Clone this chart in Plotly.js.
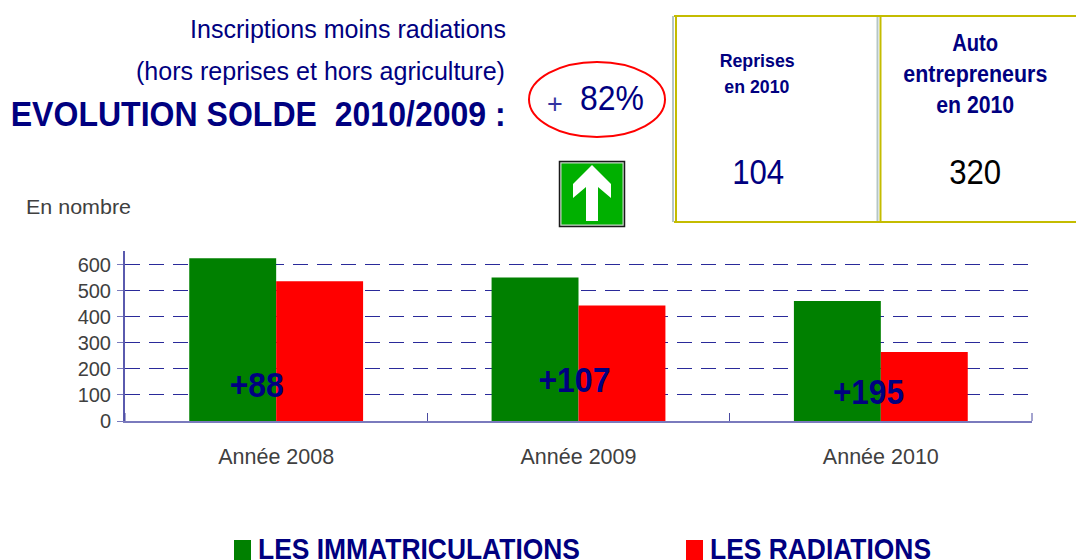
<!DOCTYPE html>
<html><head><meta charset="utf-8">
<script src="https://cdn.plot.ly/plotly-3.0.1.min.js"></script>
<style>html,body{margin:0;padding:0;background:#fff;overflow:hidden}</style>
</head><body><div id="chart" style="width:1076px;height:560px"></div>
<script>
const categories = ["Année 2008", "Année 2009", "Année 2010"];
const immatriculations = [624, 550, 460];
const radiations = [536, 443, 265];
const soldes = ["+88", "+107", "+195"];
const seriesNames = ["LES IMMATRICULATIONS", "LES RADIATIONS"];
const yTicks = [0, 100, 200, 300, 400, 500, 600];

const W = 1076, H = 560, M = {l:125, r:44, t:251, b:139};
const px = x => (x - M.l) / (W - M.l - M.r);
const py = y => 1 - (y - M.t) / (H - M.t - M.b);
const NAVY = "#000080", SANS = "Liberation Sans, Arial, sans-serif";
const squeezed = [];

function label(text, x, y, size, width, opts) {
  opts = opts || {};
  squeezed.push(width);
  return {text, xref:"paper", yref:"paper", x:px(x), y:py(y), showarrow:false,
    xanchor:opts.anchor || "center", yanchor:"middle", align:opts.anchor || "center",
    font:{family:SANS, size, color:opts.color || NAVY, weight:opts.bold ? 700 : 400}};
}
function box(type, x0, y0, x1, y1, line, fill) {
  return {type, xref:"paper", yref:"paper", x0:px(x0), y0:py(y0), x1:px(x1), y1:py(y1),
    line:line || {width:0}, fillcolor:fill || "rgba(0,0,0,0)", layer:"above"};
}
function seg(x0, y0, x1, y1, line) {
  return {type:"line", xref:"paper", yref:"paper", x0:px(x0), y0:py(y0), x1:px(x1), y1:py(y1), line, layer:"above"};
}
const arrowPts = [[592,165],[611,184],[611,198],[598,187],[598,221],[586,221],[586,187],[573,198],[573,184]];
const arrowPath = "M" + arrowPts.map(p => px(p[0]) + "," + py(p[1])).join("L") + "Z";
const yellow = {color:"#C4BC00", width:2}, grey = {color:"#B5C6C6", width:2}, tick = {color:"#4A4AA0", width:1};

const chartEl = document.getElementById("chart");
Plotly.newPlot(chartEl, [
  {type:"bar", name:seriesNames[0], x:categories, y:immatriculations, marker:{color:"#008000"}},
  {type:"bar", name:seriesNames[1], x:categories, y:radiations, marker:{color:"#FF0000"}}
], {
  width:W, height:H, margin:M, showlegend:false, barmode:"group", bargap:0.425, bargroupgap:0,
  paper_bgcolor:"#fff", plot_bgcolor:"#fff",
  xaxis:{type:"category", tickson:"boundaries", ticks:"inside", ticklen:8, tickcolor:"#4A4AA0", tickwidth:1,
    showline:true, linecolor:"#7A7ABD", linewidth:2, showgrid:false, tickfont:{family:SANS, size:21.5, color:"#404040"}, ticklabelstandoff:15},
  yaxis:{range:[0,652], tickmode:"array", tickvals:yTicks, ticktext:yTicks.map(String), ticks:"outside", ticklen:6, tickcolor:"#7A7ABD",
    showline:true, linecolor:"#5A5AAE", linewidth:2, showgrid:true, gridcolor:"#2A2A9A", gridwidth:1, griddash:"15px,9px", zeroline:false,
    tickfont:{family:SANS, size:20, color:"#404040"}, ticklabelstandoff:2},
  shapes:[
    box("circle",529,62,665,137,{color:"#FF0000",width:2}),
    box("rect",559.5,161.5,624.5,226.5,{color:"#1A1A1A",width:1.5},"#C8D8C8"),
    box("rect",561.5,163.5,622.5,224.5,{width:0},"#00B000"),
    {type:"path",xref:"paper",yref:"paper",path:arrowPath,fillcolor:"#FFFFFF",line:{width:0},layer:"above"},
    seg(673,16,673,222,grey), seg(676,16,676,222,yellow),
    seg(877.5,16,877.5,222,grey), seg(880.5,16,880.5,222,yellow),
    seg(674,16,1076,16,yellow), seg(674,222,1076,222,yellow),
    seg(1032,413,1032,421,tick), seg(125,413,125,421,tick),
    box("rect",234,540,251,561,{width:0},"#008000"),
    box("rect",686,540,703,561,{width:0},"#FF0000")
  ],
  annotations:[
    label("Inscriptions moins radiations",508,29,26,316,{anchor:"right"}),
    label("(hors reprises et hors agriculture)",507,71,26,369,{anchor:"right"}),
    label("EVOLUTION SOLDE  2010/2009 :",508,113,35,495,{anchor:"right",bold:true}),
    label("+",555,104,27,0,{color:"#3333A0"}),
    label("82%",612,97,35,64),
    label("Reprises",757,60,19,75,{bold:true}),
    label("en 2010",757,87,19,65,{bold:true}),
    label("104",758,172,35,52),
    label("Auto",975,43,23,46,{bold:true}),
    label("entrepreneurs",975,74,23,144,{bold:true}),
    label("en 2010",975,105,23,78,{bold:true}),
    label("320",975,172,35,52,{color:"#000000"}),
    label("En nombre",24,206,21,105,{anchor:"left",color:"#404040"}),
    label(soldes[0],256,384,35,54,{bold:true}),
    label(soldes[1],574,379,35,72,{bold:true}),
    label(soldes[2],868,391,35,71,{bold:true}),
    label(seriesNames[0],256,548,30,322,{anchor:"left",bold:true}),
    label(seriesNames[1],708,548,30,221,{anchor:"left",bold:true})
  ]
}, {displayModeBar:false, staticPlot:true}).then(() => {
  chartEl.querySelectorAll(".annotation-text").forEach((t, i) => {
    if (squeezed[i]) { t.setAttribute("textLength", squeezed[i]); t.setAttribute("lengthAdjust", "spacingAndGlyphs"); }
  });
});
</script></body></html>
